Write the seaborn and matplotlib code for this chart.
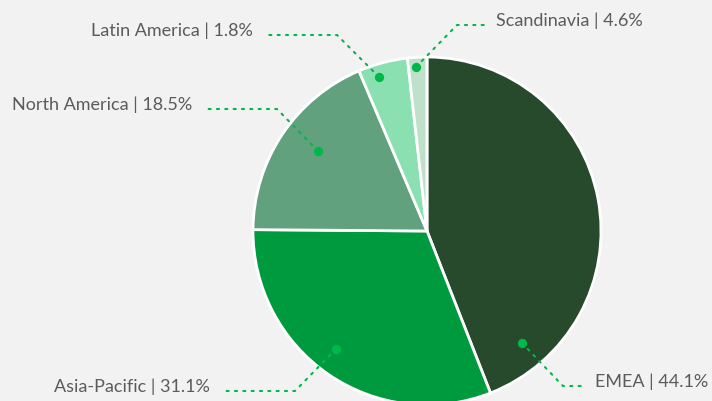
import seaborn as sns
import matplotlib.pyplot as plt

# slice order as drawn, clockwise from 12 o'clock
regions = ["EMEA", "Asia-Pacific", "North America", "Latin America", "Scandinavia"]
shares = [44.1, 31.1, 18.5, 4.6, 1.8]
# the percentages printed next to each slice label
label_pct = ["44.1%", "31.1%", "18.5%", "1.8%", "4.6%"]

colors = ["#264a2b", "#009a3e", "#62a17e", "#8be0b1", "#bfe1cb"]
bg = "#f2f2f2"
accent = "#00b84a"
text_col = "#5b5b5b"

W, H = 712, 401

# label layout in pixel coords (from top-left): dot, elbow, line end, side
layout = [
    ((522, 343), (563, 386), (586, 386), "right"),
    ((336, 349), (295, 391), (221, 391), "left"),
    ((318, 151), (277, 109), (203, 109), "left"),
    ((379, 77), (337, 35), (264, 35), "left"),
    ((416, 67), (457, 25), (487, 25), "right"),
]

sns.set_theme(style="white")
plt.rcParams["font.family"] = ["Lato", "DejaVu Sans"]

fig = plt.figure(figsize=(W / 100, H / 100), dpi=100, facecolor=bg)
ax = fig.add_axes([0, 0, 1, 1])
ax.set_facecolor(bg)


def Y(py):
    return H - py


ax.pie(shares, colors=colors, startangle=90, counterclock=False,
       center=(427, Y(231)), radius=174,
       wedgeprops=dict(edgecolor="white", linewidth=2))

for name, pct, (dot, elbow, end, side) in zip(regions, label_pct, layout):
    xs = [dot[0], elbow[0], end[0]]
    ys = [Y(dot[1]), Y(elbow[1]), Y(end[1])]
    ax.plot(xs, ys, color=accent, linestyle=(0, (1, 3)), linewidth=1.5,
            dash_capstyle="round")
    ax.scatter([dot[0]], [Y(dot[1])], s=45, color=accent, zorder=5, linewidths=0)
    if side == "right":
        tx, ha = end[0] + 9, "left"
    else:
        tx, ha = end[0] - 11, "right"
    ax.text(tx, Y(end[1] - 4), f"{name} | {pct}", ha=ha, va="center",
            fontsize=13, color=text_col)

ax.set_xlim(0, W)
ax.set_ylim(0, H)
ax.set_aspect("equal")
ax.axis("off")

fig.savefig("out.png", dpi=100, facecolor=bg)
